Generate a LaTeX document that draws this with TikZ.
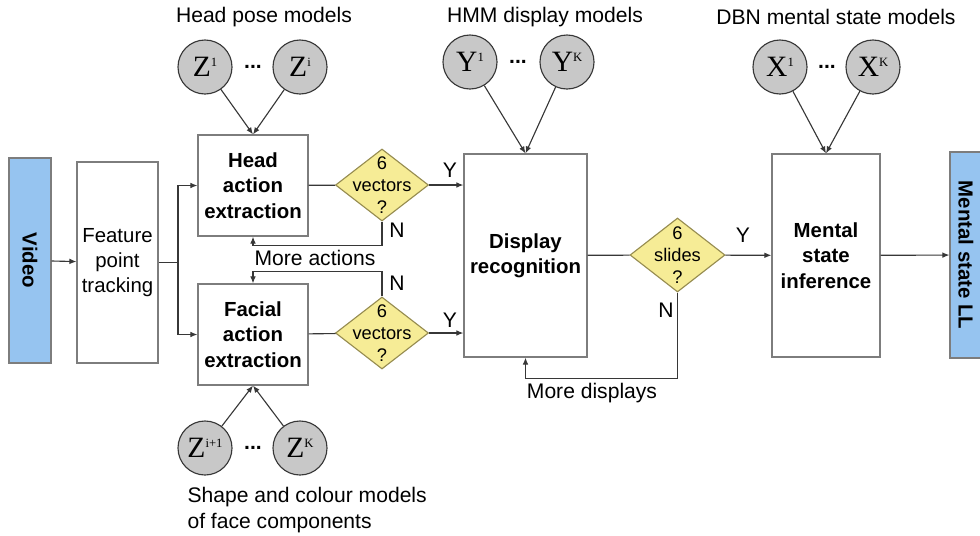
\documentclass[tikz,border=0pt]{standalone}
\usepackage{fontspec}
\setmainfont{Liberation Sans}
\newfontfamily\modelfont{Liberation Serif}
\usetikzlibrary{shapes.geometric,arrows.meta}

\definecolor{boxline}{RGB}{125,125,125}
\definecolor{linecol}{RGB}{55,55,55}
\definecolor{iofill}{RGB}{150,196,240}
\definecolor{decfill}{RGB}{246,236,150}
\definecolor{decline}{RGB}{150,140,80}
\definecolor{modfill}{RGB}{200,200,200}

\newcommand{\idx}[1]{\raisebox{0.75ex}{\fontsize{9}{9}\selectfont #1}}

\tikzset{
	stage/.style={draw=boxline,fill=white,rectangle,inner sep=0pt,align=center,
		font=\fontsize{14.5}{18}\selectfont\bfseries},
	io/.style={draw=boxline,fill=iofill,rectangle,inner sep=0pt,rotate=-90,
		font=\fontsize{14.5}{18}\selectfont\bfseries},
	test/.style={draw=decline,fill=decfill,diamond,inner sep=0pt},
	testtext/.style={align=center,inner sep=0pt,font=\fontsize{13}{15.5}\selectfont},
	model/.style={draw=linecol,fill=modfill,circle,inner sep=0pt,minimum size=1.35cm,
		font=\modelfont\fontsize{21}{21}\selectfont},
	gap/.style={font=\fontsize{15}{15}\selectfont\bfseries},
	title/.style={font=\fontsize{15}{18.5}\selectfont},
	tag/.style={font=\fontsize{15}{18}\selectfont}
}

\begin{document}
\begin{tikzpicture}[x=0.025cm,y=-0.025cm,>={Latex[length=5pt,width=4pt]},line width=0.8pt,draw=linecol]
	\useasboundingbox (0,0) rectangle (980,535);
	
	\node[io,minimum width=5.125cm,minimum height=1.05cm] (video) at (30,260.5) {Video};
	\node[stage,minimum width=2.025cm,minimum height=5.025cm,font=\fontsize{14.5}{18}\selectfont] (feat) at (117.5,262.5) {Feature\\point\\tracking};
	\node[stage,minimum width=2.75cm,minimum height=2.525cm] (head) at (253,185.5) {Head\\action\\extraction};
	\node[stage,minimum width=2.75cm,minimum height=2.525cm] (facial) at (253,334.5) {Facial\\action\\extraction};
	\node[test,minimum width=2.325cm,minimum height=1.8cm] (dv1) at (382,185) {};
	\node[test,minimum width=2.325cm,minimum height=1.8cm] (dv2) at (382,333) {};
	\node[testtext] (dv1t) at (dv1) {6\\vectors\\?};
	\node[testtext] (dv2t) at (dv2) {6\\vectors\\?};
	\node[stage,minimum width=3.075cm,minimum height=5.075cm] (disp) at (525.5,255.5) {Display\\recognition};
	\node[test,minimum width=2.375cm,minimum height=1.85cm] (ds) at (677.5,255) {};
	\node[testtext] (dst) at (ds) {6\\slides\\?};
	\node[stage,minimum width=2.7cm,minimum height=5.075cm] (ment) at (826,255.5) {Mental\\state\\inference};
	\node[io,minimum width=5.15cm,minimum height=0.8cm] (ll) at (966,255) {Mental state LL};
	
	% models
	\node[title] (ztop) at (264,17) {Head pose models};
	\node[model] (z1) at (205,67) {Z\idx{1}};
	\node[gap] (zdots) at (253,67) {...};
	\node[model] (zi) at (300,67) {Z\idx{i}};
	\node[title] (ytop) at (545,17) {HMM display models};
	\node[model] (y1) at (470,62) {Y\idx{1}};
	\node[gap] (ydots) at (518,62) {...};
	\node[model] (yk) at (567,62) {Y\idx{K}};
	\node[title] (xtop) at (836,17) {DBN mental state models};
	\node[model] (x1) at (780,67) {X\idx{1}};
	\node[gap] (xdots) at (827,67) {...};
	\node[model] (xk) at (873,67) {X\idx{K}};
	\node[model] (zj) at (205,448) {Z\idx{i+1}};
	\node[gap] (zjdots) at (253,448) {...};
	\node[model] (zk) at (300,448) {Z\idx{K}};
	\node[title,anchor=north west,align=left,inner sep=0pt] (zbot) at (187,487) {Shape and colour models\\of face components};
	
	% labels
	\node[tag] (y1lab) at (450,170) {Y};
	\node[tag] (y2lab) at (450,320) {Y};
	\node[tag] (n1lab) at (397,230) {N};
	\node[tag] (n2lab) at (397,283) {N};
	\node[tag] (y3lab) at (743,235) {Y};
	\node[tag] (n3lab) at (666,310) {N};
	\node[tag] (morea) at (315,258) {More actions};
	\node[tag] (mored) at (592,393) {More displays};
	
	\coordinate (split) at (178,262.5);
	\draw[->] (video) -- (feat);
	\draw (feat) -- (split);
	\draw[->] (split) |- (head);
	\draw[->] (split) |- (facial);
	\draw (head) -- (dv1);
	\draw (facial) -- (dv2);
	\draw[->] (dv1) -- (disp.west |- dv1);
	\draw[->] (dv2) -- (disp.west |- dv2);
	\draw[->] (dv1.south) -- ++(0,24) -| (head.south);
	\draw[->] (dv2.north) -- ++(0,-25) -| (facial.north);
	\draw (disp) -- (ds);
	\draw[->] (ds) -- (ment);
	\draw[->] (ds.south) -- ++(0,86) -| (disp.south);
	\draw[->] (ment) -- (ll);
	
	\draw[->] (z1) -- (head.north);
	\draw[->] (zi) -- (head.north);
	\draw[->] (y1) -- (disp.north);
	\draw[->] (yk) -- (disp.north);
	\draw[->] (x1) -- (ment.north);
	\draw[->] (xk) -- (ment.north);
	\draw[->] (zj) -- (facial.south);
	\draw[->] (zk) -- (facial.south);
	
\end{tikzpicture}
\end{document}
